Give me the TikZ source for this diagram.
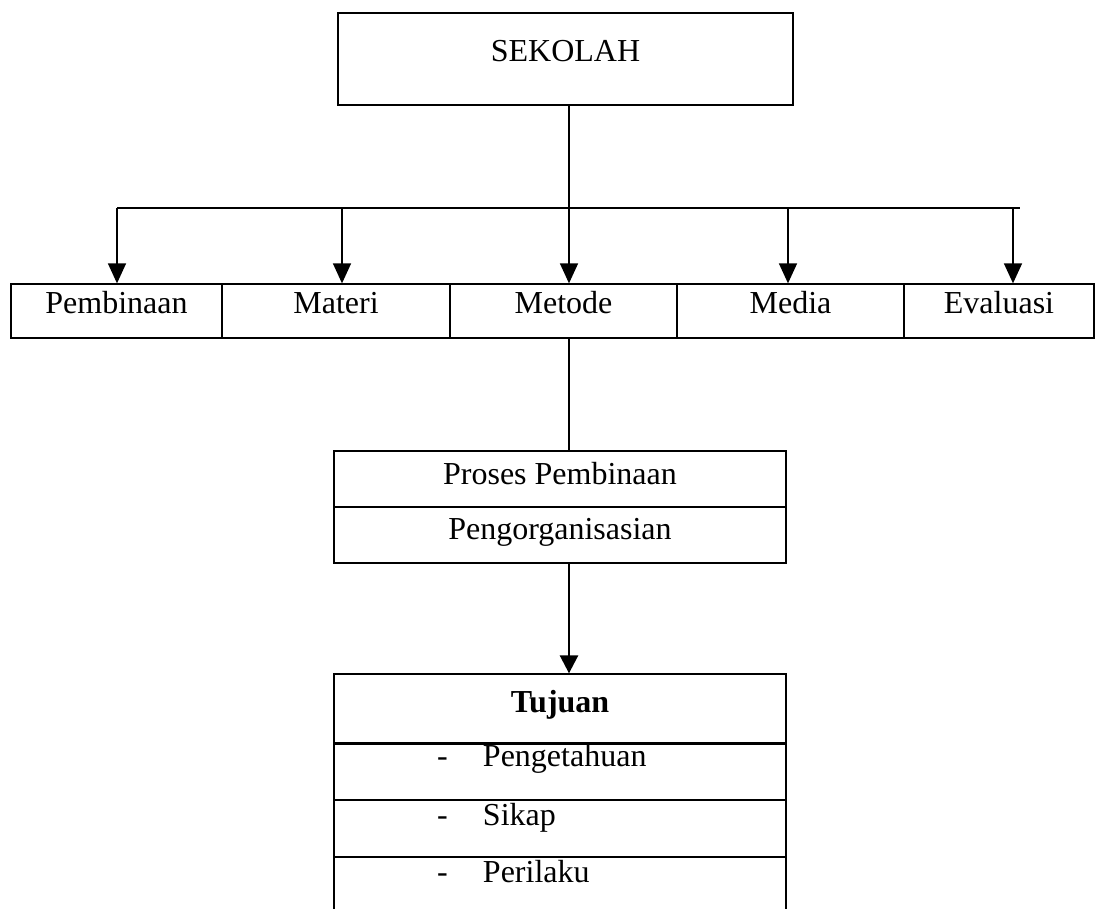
\documentclass[tikz,border=0pt]{standalone}
\usepackage{fontspec}
\setmainfont{Liberation Serif}
\usetikzlibrary{arrows.meta}
\begin{document}
\begin{tikzpicture}[x=1pt,y=-1pt,
  box/.style={draw, line width=1.3pt, rectangle, inner sep=0pt, font=\fontsize{32}{37}\selectfont, text height=21pt},
  rowbox/.style={box, minimum height=54pt, text depth=16.4pt},
  listbox/.style={box, text width=452pt, align=left, minimum height=57pt, text depth=27.4pt},
  conn/.style={line width=1.5pt},
  arr/.style={line width=1.5pt, -{Triangle[width=18pt,length=20pt]}},
]
\useasboundingbox (0,0) rectangle (1096,909);
\clip (0,0) rectangle (1096,909);

% top box
\node[box, minimum width=455pt, minimum height=92pt, text depth=16.4pt] (sek) at (565.5,59) {SEKOLAH};

% row of five
\node[rowbox, minimum width=211pt] (pemb) at (116.5,311) {Pembinaan};
\node[rowbox, minimum width=228pt] (mat) at (336,311) {Materi};
\node[rowbox, minimum width=227pt] (met) at (563.5,311) {Metode};
\node[rowbox, minimum width=227pt] (med) at (790.5,311) {Media};
\node[rowbox, minimum width=190pt] (eval) at (999,311) {Evaluasi};

% process box
\node[box, minimum width=452pt, minimum height=56pt, text depth=9.4pt] (proses) at (560,479) {Proses Pembinaan};
\node[box, minimum width=452pt, minimum height=56pt, text depth=11.4pt] (pengorg) at (560,535) {Pengorganisasian};

% goal box
\node[box, minimum width=452pt, minimum height=69pt, text depth=13.4pt, font=\fontsize{32}{37}\selectfont\bfseries] (tuj) at (560,708.5) {Tujuan};
\node[listbox, text depth=31.4pt] (r1) at (560,771.5) {\hspace*{103pt}\makebox[46pt][l]{-}Pengetahuan};
\node[listbox] (r2) at (560,828.5) {\hspace*{103pt}\makebox[46pt][l]{-}Sikap};
\node[listbox] (r3) at (560,885.5) {\hspace*{103pt}\makebox[46pt][l]{-}Perilaku};
\draw[line width=2.6pt] (tuj.south west) -- (tuj.south east);

% connectors
\coordinate (xm) at (569,0);
\coordinate (busL) at (117,208);
\coordinate (busR) at (1020,208);
\coordinate (d1) at (117,208);
\coordinate (d2) at (342,208);
\coordinate (d4) at (788,208);
\coordinate (d5) at (1013,208);

\draw[conn] (busL) -- (busR);
\draw[arr] (sek.south -| xm) -- (met.north -| xm);
\draw[arr] (d1) -- (d1 |- pemb.north);
\draw[arr] (d2) -- (d2 |- mat.north);
\draw[arr] (d4) -- (d4 |- med.north);
\draw[arr] (d5) -- (d5 |- eval.north);
\draw[conn] (met.south -| xm) -- (proses.north -| xm);
\draw[line width=2.6pt, -{Triangle[width=18pt,length=18pt]}] (pengorg.south -| xm) -- (tuj.north -| xm);
\end{tikzpicture}
\end{document}
